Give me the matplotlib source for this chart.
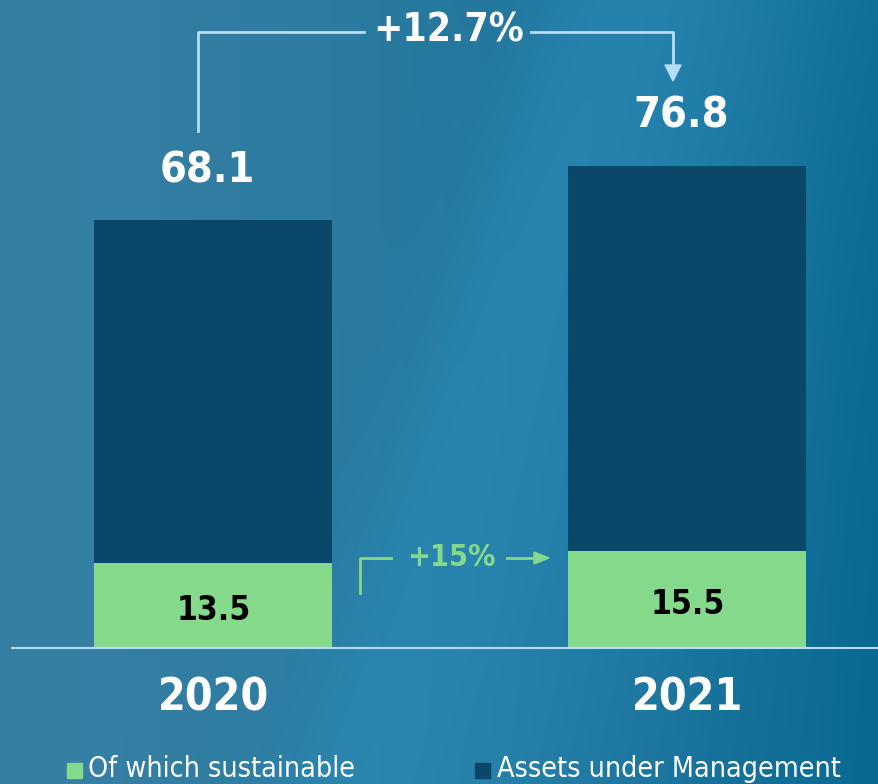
#!/usr/bin/env python3
"""Assets under Management 2020 vs 2021, davon nachhaltig."""
import numpy as np
import matplotlib.pyplot as plt
from matplotlib.patches import Rectangle

# =============================================================================
# Daten
# =============================================================================
years = ["2020", "2021"]
total_aum = [68.1, 76.8]
sustainable = [13.5, 15.5]
growth_total = "+12.7%"
growth_sust = "+15%"
legend_labels = ["Of which sustainable", "Assets under Management"]

DARK = "#0b4769"
GREEN = "#84d98b"
LIGHT = "#b5def4"

W, H = 879, 784
fig = plt.figure(figsize=(W / 100, H / 100), dpi=100)


def fx(x):
    return x / W


def fy(y):
    return 1 - y / H


# Hintergrund mit Verlauf
bg = fig.add_axes([0, 0, 1, 1], zorder=0)
yy, xx = np.mgrid[0:H, 0:W]
left = np.array([54, 128, 164]) / 255
right = np.array([8, 104, 146]) / 255
light = np.array([42, 140, 184]) / 255
t = np.clip(xx / W, 0, 1)[..., None] ** 1.6
img = left * (1 - t) + right * t
# diagonal helles Band, weich
d = (xx - (560 - 0.33 * yy))
edge = 1 / (1 + np.exp(-(d + 10) / 25.0))
band = edge * np.exp(-(np.maximum(d, 0) / 300.0) ** 2)
band = band[..., None] * 0.7
img = img * (1 - band) + light * band
bg.imshow(img, aspect="auto", extent=[0, W, H, 0])
bg.set_axis_off()

# Balkenachse: Basislinie bei y=648 px, 6.28 px pro Einheit
scale = 6.28
base_px = 648
ax = fig.add_axes([0, 0, 1, 1], zorder=1)
ax.patch.set_alpha(0)
ax.set_ylim(-(H - base_px) / scale, base_px / scale)
xc = [213.5, 687.5]
ax.set_xlim(0, W)
ax.set_axis_off()

x = np.array(xc)
ax.bar(x, sustainable, width=238, color=GREEN, zorder=2)
ax.bar(x, np.array(total_aum) - np.array(sustainable), bottom=sustainable,
       width=238, color=DARK, zorder=2)
ax.axhline(0, xmin=12 / W, xmax=1, color=LIGHT, lw=1.5, zorder=3)

bold = dict(family="DejaVu Sans", fontstretch="condensed", fontweight="bold")

for xi, tot, sus, yr in zip(x, total_aum, sustainable, years):
    ax.text(xi - 6, tot + 8.0, f"{tot}", ha="center", va="center",
            color="white", fontsize=31, **bold)
    ax.text(xi, sus / 2 - 0.8, f"{sus}", ha="center", va="center",
            color="black", fontsize=24, fontfamily="DejaVu Sans",
            fontstretch="condensed", fontweight="semibold")
    ax.text(xi, -8.0, yr, ha="center", va="center",
            color="white", fontsize=32, **bold)

# Klammer +12.7%
fig.add_artist(plt.Line2D([fx(198), fx(198), fx(364)], [fy(131), fy(32), fy(32)],
                          color=LIGHT, lw=2))
fig.add_artist(plt.Line2D([fx(531), fx(673), fx(673)], [fy(32), fy(32), fy(66)],
                          color=LIGHT, lw=2))
fig.patches.append(plt.Polygon([[fx(665), fy(65)], [fx(681), fy(65)], [fx(673), fy(81)]],
                               closed=True, color=LIGHT, transform=fig.transFigure))
fig.text(fx(449), fy(30), growth_total, ha="center", va="center",
         color="white", fontsize=28, **bold)

# Klammer +15%
fig.add_artist(plt.Line2D([fx(360), fx(360), fx(391)], [fy(593), fy(558), fy(558)],
                          color=GREEN, lw=2))
fig.add_artist(plt.Line2D([fx(507), fx(538)], [fy(558), fy(558)], color=GREEN, lw=2))
fig.patches.append(plt.Polygon([[fx(534), fy(552)], [fx(534), fy(564)], [fx(549), fy(558)]],
                               closed=True, color=GREEN, transform=fig.transFigure))
fig.text(fx(451), fy(557), growth_sust, ha="center", va="center",
         color=GREEN, fontsize=22, **bold)

# Legende
for (sx, tx), col, lab in zip([(67, 88), (475, 497)], [GREEN, DARK], legend_labels):
    fig.patches.append(Rectangle((fx(sx), fy(778)), 15 / W, 15 / H, color=col,
                                 transform=fig.transFigure))
    fig.text(fx(tx), fy(769), lab, ha="left", va="center", color="white",
             fontsize=20.5, family="DejaVu Sans", fontstretch="condensed",
             fontweight="light")

fig.savefig("out.png", dpi=100)
